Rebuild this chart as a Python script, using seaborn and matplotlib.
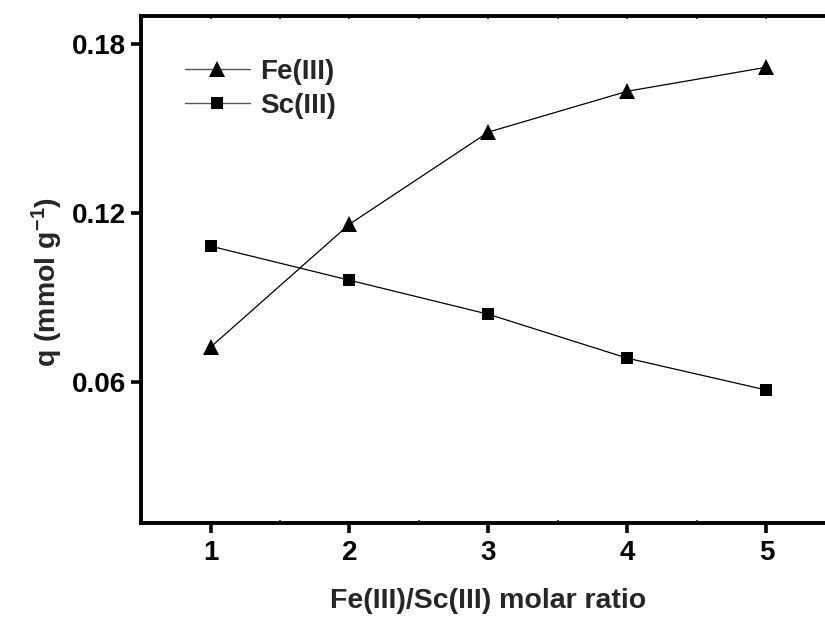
import numpy as np
import pandas as pd
import matplotlib
matplotlib.use("Agg")
import matplotlib.pyplot as plt
from matplotlib.ticker import MultipleLocator
import seaborn as sns

# Molar ratio of Fe(III) to Sc(III) in the feed
ratio = [1, 2, 3, 4, 5]
# Adsorbed amount q (mmol/g) for each ion
q_fe = [0.0724, 0.1161, 0.1488, 0.1633, 0.1718]
q_sc = [0.1083, 0.0962, 0.0841, 0.0685, 0.0572]
series = ["Fe(III)", "Sc(III)"]
x_ticks = [1, 2, 3, 4, 5]
y_ticks = [0.06, 0.12, 0.18]

df = pd.DataFrame({
    "ratio": ratio * 2,
    "q": q_fe + q_sc,
    "ion": [series[0]] * len(ratio) + [series[1]] * len(ratio),
})

sns.set_theme(style="ticks")
plt.rcParams["font.family"] = ["Liberation Sans", "DejaVu Sans"]
plt.rcParams["font.weight"] = "bold"
plt.rcParams["mathtext.fontset"] = "custom"
plt.rcParams["mathtext.rm"] = "Liberation Sans:bold"
plt.rcParams["mathtext.bf"] = "Liberation Sans:bold"
plt.rcParams["mathtext.default"] = "bf"

W, H = 825, 618
fig = plt.figure(figsize=(W / 100, H / 100), dpi=100)
# plot frame: x from 141 px to 836 px (right edge falls just outside the canvas)
ax = fig.add_axes([141 / W, (H - 523) / H, 695 / W, 507 / H])

sns.lineplot(
    data=df, x="ratio", y="q", hue="ion", style="ion",
    markers={series[0]: "^", series[1]: "s"}, dashes=False,
    palette={series[0]: "black", series[1]: "black"},
    markersize=10, linewidth=0.9, markeredgewidth=0, ax=ax,
)
marker_size = {"^": 11.5, "s": 8.2}
for ln in ax.lines:
    m = ln.get_marker()
    if m in marker_size:
        ln.set_markersize(marker_size[m])

ax.set_xlim(0.5, 5.5)
ax.set_ylim(0.01, 0.19)
ax.set_xticks(x_ticks)
ax.set_yticks(y_ticks)
ax.set_yticklabels([f"{v:.2f}" for v in y_ticks])
ax.xaxis.set_minor_locator(MultipleLocator(0.5))

for s in ["left", "bottom", "top", "right"]:
    ax.spines[s].set_linewidth(2.8)
    ax.spines[s].set_color("black")

ax.tick_params(axis="both", which="major", direction="out", length=7,
               width=2.6, labelsize=20, colors="black")
ax.tick_params(axis="y", which="major", pad=4)
ax.tick_params(axis="x", which="major", pad=5)
ax.tick_params(axis="x", which="minor", direction="in", length=2.5, width=1.2)

# Small inward marks along the top frame
top = ax.secondary_xaxis("top")
top.set_xticks(np.arange(0.5, 5.6, 0.5))
top.tick_params(direction="in", length=2.5, width=1.2, labeltop=False)
top.spines["top"].set_visible(False)

for lbl in ax.get_xticklabels() + ax.get_yticklabels():
    lbl.set_fontweight("bold")

ax.set_xlabel("Fe(III)/Sc(III) molar ratio", fontsize=20.5, fontweight="bold")
ax.set_ylabel(r"q (mmol g$^{-1}$)", fontsize=20.5, fontweight="bold")
ax.xaxis.set_label_coords(0.5, -0.129)
ax.yaxis.set_label_coords(-0.11, 0.475)

leg = ax.legend(loc="upper left", bbox_to_anchor=(0.047, 0.938), frameon=False,
                fontsize=20, handlelength=2.35, handletextpad=0.36,
                labelspacing=0.3, borderaxespad=0)
for h in leg.legend_handles:
    h.set_linewidth(1.0)
    h.set_color("#555555")
    h.set_markerfacecolor("black")
    h.set_markeredgecolor("black")
    m = h.get_marker()
    if m in marker_size:
        h.set_markersize(marker_size[m])
for t in leg.get_texts():
    t.set_fontweight("bold")

fig.savefig("out.png", dpi=100)
